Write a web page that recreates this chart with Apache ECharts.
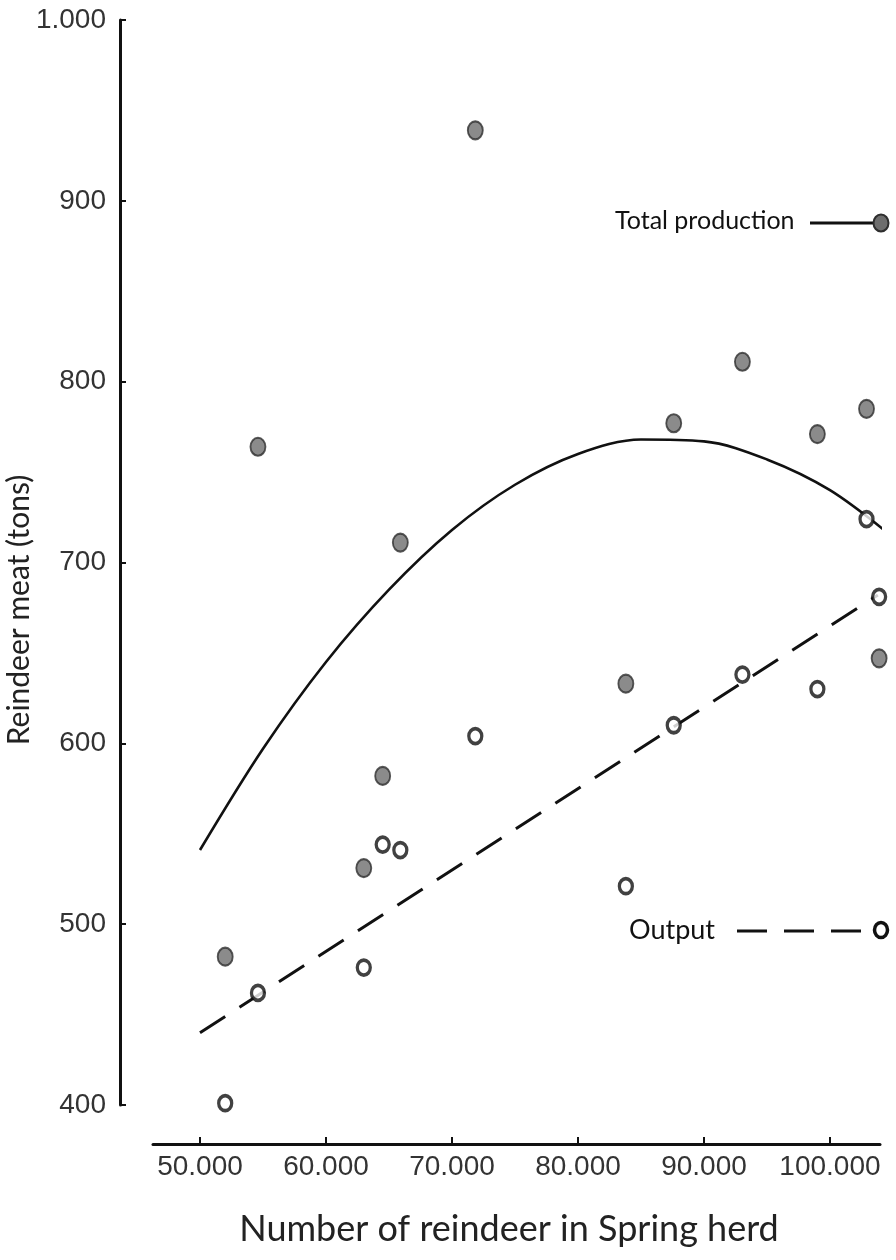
<!DOCTYPE html>
<html>
<head>
<meta charset="utf-8">
<script src="https://cdn.jsdelivr.net/npm/echarts@6/dist/echarts.min.js"></script>
<style>
  html, body { margin: 0; padding: 0; background: #fff; }
  #chart { width: 896px; height: 1260px; }
</style>
</head>
<body>
<div id="chart"></div>
<script>
// number of reindeer in spring herd, one entry per year
const herd = [52000, 54600, 63000, 64500, 65900, 71850, 83800, 87600, 93050, 99000, 102900, 103900]
// total production (filled dots), tons
const totalProduction = [482, 764, 531, 582, 711, 939, 633, 777, 811, 771, 785, 647]
// output (open dots), tons
const output = [401, 462, 476, 544, 541, 604, 521, 610, 638, 630, 724, 681]

// fitted curve for total production
const curveHerd = [50000, 55000, 60000, 65000, 70000, 75000, 80000, 85000, 90000, 95000, 100000, 105000]
const curveTotal = [541, 597, 645, 685, 718, 743, 760, 768, 767, 757, 740, 714]

// straight trend line for output
const trendHerd = [50000, 103800]
const trendOutput = [440, 682]

// tick labels
const xTicks = [50000, 60000, 70000, 80000, 90000, 100000]
const yTicks = [400, 500, 600, 700, 800, 900, 1000]

const pair = (xs, ys) => xs.map((x, i) => [x, ys[i]])
// 50000 -> "50.000"
const dotted = (v) => String(v).replace(/\B(?=(\d{3})+(?!\d))/g, '.')

const labelFont = 'Liberation Sans, Arial, sans-serif'
const textFont = 'Lato, "Open Sans", sans-serif'

const chart = echarts.init(document.getElementById('chart'))

const option = {
  animation: false,
  backgroundColor: '#fff',
  grid: {
    left: 153,
    right: 16,
    top: 20,
    bottom: 155,
    containLabel: false,
    outerBoundsMode: 'none'
  },
  xAxis: {
    type: 'value',
    min: 46270,
    max: 103970,
    offset: 39,
    splitLine: { show: false },
    axisLine: { show: true, lineStyle: { color: '#111', width: 3 } },
    axisTick: {
      show: true,
      inside: true,
      length: 7,
      customValues: xTicks,
      lineStyle: { color: '#111', width: 2 }
    },
    axisLabel: {
      customValues: xTicks,
      formatter: (v) => dotted(v),
      fontFamily: labelFont,
      fontSize: 28,
      color: '#333',
      margin: 9
    }
  },
  yAxis: {
    type: 'value',
    min: yTicks[0],
    max: yTicks[yTicks.length - 1],
    interval: 100,
    offset: 33,
    splitLine: { show: false },
    axisLine: { show: true, lineStyle: { color: '#111', width: 3 } },
    axisTick: {
      show: true,
      inside: true,
      length: 6,
      lineStyle: { color: '#111', width: 2 }
    },
    axisLabel: {
      formatter: (v) => dotted(v),
      fontFamily: labelFont,
      fontSize: 28,
      color: '#333',
      margin: 14
    }
  },
  graphic: [
    // axis names
    {
      type: 'text',
      x: 509,
      y: 1229,
      style: {
        text: 'Number of reindeer in Spring herd',
        font: '36px ' + textFont,
        fill: '#222',
        align: 'center',
        verticalAlign: 'middle'
      }
    },
    {
      type: 'text',
      x: 19,
      y: 610,
      rotation: Math.PI / 2,
      style: {
        text: 'Reindeer meat (tons)',
        font: '30px ' + textFont,
        fill: '#222',
        align: 'center',
        verticalAlign: 'middle'
      }
    },
    // key: total production
    {
      type: 'text',
      x: 615,
      y: 221,
      style: {
        text: 'Total production',
        font: '25px ' + textFont,
        fill: '#111',
        align: 'left',
        verticalAlign: 'middle'
      }
    },
    {
      type: 'line',
      shape: { x1: 810, y1: 223, x2: 875, y2: 223 },
      style: { stroke: '#111', lineWidth: 3 }
    },
    {
      type: 'ellipse',
      shape: { cx: 881, cy: 223, rx: 7.5, ry: 8.5 },
      style: { fill: '#6e6e6e', stroke: '#2e2e2e', lineWidth: 2 }
    },
    // key: output
    {
      type: 'text',
      x: 629,
      y: 930,
      style: {
        text: 'Output',
        font: '27px ' + textFont,
        fill: '#111',
        align: 'left',
        verticalAlign: 'middle'
      }
    },
    {
      type: 'line',
      shape: { x1: 737, y1: 931, x2: 870, y2: 931 },
      style: { stroke: '#111', lineWidth: 3, lineDash: [30, 17] }
    },
    {
      type: 'ellipse',
      shape: { cx: 881, cy: 930, rx: 6.5, ry: 7.5 },
      style: { fill: '#fff', stroke: '#111', lineWidth: 3.5 }
    }
  ],
  series: [
    {
      name: 'Total production fit',
      type: 'line',
      data: pair(curveHerd, curveTotal),
      smooth: 0.33,
      showSymbol: false,
      symbol: 'none',
      clip: false,
      lineStyle: { color: '#111', width: 2.6 },
      z: 2
    },
    {
      name: 'Output fit',
      type: 'line',
      data: pair(trendHerd, trendOutput),
      showSymbol: false,
      symbol: 'none',
      clip: false,
      lineStyle: { color: '#111', width: 3, type: [30, 17] },
      z: 2
    },
    {
      name: 'Total production',
      type: 'scatter',
      data: pair(herd, totalProduction),
      symbol: 'circle',
      symbolSize: [15, 18],
      itemStyle: { color: '#6e6e6e', borderColor: '#2e2e2e', borderWidth: 2 },
      z: 3
    },
    {
      name: 'Output',
      type: 'scatter',
      data: pair(herd, output),
      symbol: 'circle',
      symbolSize: [13, 15],
      itemStyle: { color: '#fff', borderColor: '#111', borderWidth: 3.5 },
      z: 4
    }
  ]
}

chart.setOption(option)
</script>
</body>
</html>
